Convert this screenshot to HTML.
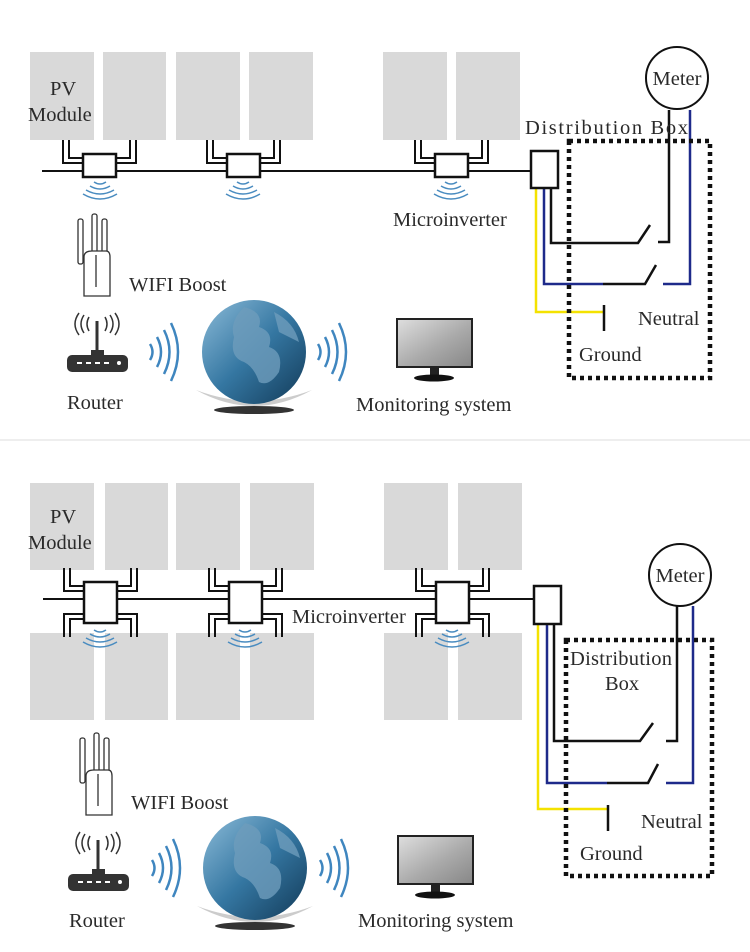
<!DOCTYPE html>
<html><head><meta charset="utf-8"><style>
body{margin:0;background:#fff}
svg{display:block}
text{font-family:"Liberation Serif",serif;fill:#2a2a2a;font-size:20.5px}
</style></head><body>
<svg width="750" height="952" viewBox="0 0 750 952" xmlns="http://www.w3.org/2000/svg">
<defs>
<linearGradient id="gl" x1="0" y1="0" x2="1" y2="1"><stop offset="0" stop-color="#8cbbd8"/><stop offset=".5" stop-color="#3577a2"/><stop offset="1" stop-color="#123a58"/></linearGradient>
<linearGradient id="scr" x1="0" y1="0" x2="1" y2="1"><stop offset="0" stop-color="#ddd"/><stop offset=".55" stop-color="#aaa"/><stop offset="1" stop-color="#888"/></linearGradient>
<g id="wifi" fill="none" stroke="#4a8cc0" stroke-width="1.5">
<path d="M-6,0 Q0,4 6,0"/><path d="M-10,4 Q0,10 10,4"/><path d="M-14,8 Q0,16 14,8"/><path d="M-17,12 Q0,22 17,12"/>
</g>
<g id="wup" fill="none" stroke="#111" stroke-width="2">
<path d="M0,4 H-14 V-14"/><path d="M0,9 H-20 V-14"/>
<path d="M33,4 H47 V-14"/><path d="M33,9 H53 V-14"/>
</g>
<g id="wdn" fill="none" stroke="#111" stroke-width="2">
<path d="M0,-4 H-14 V14"/><path d="M0,-9 H-20 V14"/>
<path d="M33,-4 H47 V14"/><path d="M33,-9 H53 V14"/>
</g>
<g id="arcs" fill="none" stroke="#3f86bf" stroke-width="2.5">
<path d="M0,-8 Q5,0 0,8"/><path d="M7,-15 Q15,0 7,15"/><path d="M14,-22 Q25,0 14,22"/><path d="M21,-29 Q35,0 21,29"/>
</g>
<g id="globe">
<path d="M-58,38 Q0,70 58,38 Q0,60 -58,38Z" fill="#ccc"/>
<ellipse cx="0" cy="58" rx="40" ry="4" fill="#333"/>
<circle r="52" fill="url(#gl)"/>
<path d="M-10,-45 Q10,-40 5,-25 Q20,-20 15,-5 Q30,0 25,20 Q15,35 5,30 Q0,15 -10,10 Q-25,5 -20,-15 Q-25,-30 -10,-45Z" fill="#6e9cbc" opacity=".8"/>
<path d="M20,-40 Q40,-30 45,-10 Q35,-15 25,-20Z" fill="#6e9cbc" opacity=".8"/>
</g>
<g id="router">
<rect x="0" y="34" width="61" height="17" rx="5" fill="#333"/>
<rect x="24" y="29" width="13" height="6" fill="#333"/>
<line x1="30" y1="0" x2="30" y2="30" stroke="#333" stroke-width="3"/>
<g stroke="#fff" stroke-width="2"><line x1="10" y1="42" x2="15" y2="42"/><line x1="19" y1="42" x2="24" y2="42"/><line x1="28" y1="42" x2="33" y2="42"/><line x1="37" y1="42" x2="42" y2="42"/></g>
<circle cx="52" cy="42" r="2" fill="#fff"/>
<g fill="none" stroke="#333" stroke-width="1.5"><path d="M22,-4 Q18,3 22,10"/><path d="M17,-6 Q11,3 17,12"/><path d="M12,-8 Q4,3 12,14"/><path d="M38,-4 Q42,3 38,10"/><path d="M43,-6 Q49,3 43,12"/><path d="M48,-8 Q56,3 48,14"/></g>
</g>
<g id="mon">
<rect x="0" y="0" width="77" height="50" fill="#222"/>
<rect x="2" y="2" width="73" height="46" fill="url(#scr)"/>
<rect x="34" y="50" width="9" height="8" fill="#222"/>
<ellipse cx="38" cy="60" rx="20" ry="3.5" fill="#111"/>
</g>
<g id="boost" fill="#fff" stroke="#333" stroke-width="1.3">
<rect x="0" y="0" width="5" height="45" rx="2"/>
<rect x="14" y="-5" width="5" height="40" rx="2"/>
<rect x="24" y="0" width="5" height="40" rx="2"/>
<path d="M6,38 Q6,32 14,32 H28 Q32,32 32,38 V77 H6Z"/>
<line x1="18" y1="36" x2="18" y2="68"/>
</g>
</defs>

<!-- TOP DIAGRAM -->
<g fill="#d9d9d9">
<rect x="30" y="52" width="64" height="88"/><rect x="103" y="52" width="63" height="88"/>
<rect x="176" y="52" width="64" height="88"/><rect x="249" y="52" width="64" height="88"/>
<rect x="383" y="52" width="64" height="88"/><rect x="456" y="52" width="64" height="88"/>
</g>
<line x1="42" y1="171" x2="531" y2="171" stroke="#111" stroke-width="2"/>
<g>
<use href="#wup" x="83" y="154"/><rect x="83" y="154" width="33" height="23" fill="#fff" stroke="#111" stroke-width="2.5"/>
<use href="#wup" x="227" y="154"/><rect x="227" y="154" width="33" height="23" fill="#fff" stroke="#111" stroke-width="2.5"/>
<use href="#wup" x="435" y="154"/><rect x="435" y="154" width="33" height="23" fill="#fff" stroke="#111" stroke-width="2.5"/>
<use href="#wifi" x="100" y="182"/><use href="#wifi" x="243" y="182"/><use href="#wifi" x="451" y="182"/>
</g>
<text x="50" y="95">PV</text><text x="28" y="121">Module</text>
<text x="393" y="226">Microinverter</text>
<text x="129" y="291">WIFI Boost</text>
<text x="67" y="409">Router</text>
<text x="356" y="411">Monitoring system</text>
<use href="#boost" x="78" y="219"/>
<use href="#router" x="67" y="321"/>
<use href="#arcs" x="150" y="352"/><use href="#arcs" x="318" y="352"/>
<use href="#globe" x="254" y="352"/>
<use href="#mon" x="396" y="318"/>

<g fill="none" stroke-width="2.5">
<path d="M536,188 V312 H603" stroke="#f4e200"/>
<path d="M544,188 V284 H603" stroke="#1e2a8a"/>
<path d="M603,284 H645 L656,265" stroke="#111"/>
<path d="M551,188 V243 H638 L650,225" stroke="#111"/>
<path d="M669,110 V242 H658" stroke="#111"/>
<path d="M690,110 V284 H663" stroke="#1e2a8a"/>
<path d="M604,305 V331" stroke="#111"/>
</g>
<rect x="531" y="151" width="27" height="37" fill="#fff" stroke="#111" stroke-width="2.5"/>
<rect x="569" y="141" width="141" height="237" fill="none" stroke="#111" stroke-width="4.5" stroke-dasharray="4,4"/>
<circle cx="677" cy="78" r="31" fill="#fff" stroke="#111" stroke-width="2"/>
<text x="677" y="85" text-anchor="middle">Meter</text>
<text x="525" y="134" textLength="163">Distribution Box</text>
<text x="638" y="325">Neutral</text>
<text x="579" y="361">Ground</text>

<line x1="0" y1="440" x2="750" y2="440" stroke="#ddd" stroke-width="1"/>

<!-- BOTTOM DIAGRAM -->
<g fill="#d9d9d9">
<rect x="30" y="483" width="64" height="87"/><rect x="105" y="483" width="63" height="87"/>
<rect x="176" y="483" width="64" height="87"/><rect x="250" y="483" width="64" height="87"/>
<rect x="384" y="483" width="64" height="87"/><rect x="458" y="483" width="64" height="87"/>
<rect x="30" y="633" width="64" height="87"/><rect x="105" y="633" width="63" height="87"/>
<rect x="176" y="633" width="64" height="87"/><rect x="250" y="633" width="64" height="87"/>
<rect x="384" y="633" width="64" height="87"/><rect x="458" y="633" width="64" height="87"/>
</g>
<line x1="43" y1="599" x2="534" y2="599" stroke="#111" stroke-width="2"/>
<use href="#wup" x="84" y="582"/><use href="#wdn" x="84" y="623"/>
<rect x="84" y="582" width="33" height="41" fill="#fff" stroke="#111" stroke-width="2.5"/>
<use href="#wup" x="229" y="582"/><use href="#wdn" x="229" y="623"/>
<rect x="229" y="582" width="33" height="41" fill="#fff" stroke="#111" stroke-width="2.5"/>
<use href="#wup" x="436" y="582"/><use href="#wdn" x="436" y="623"/>
<rect x="436" y="582" width="33" height="41" fill="#fff" stroke="#111" stroke-width="2.5"/>
<use href="#wifi" x="100" y="630"/><use href="#wifi" x="245" y="630"/><use href="#wifi" x="452" y="630"/>
<rect x="289" y="606" width="120" height="22" fill="#fff"/>
<text x="50" y="523">PV</text><text x="28" y="549">Module</text>
<text x="292" y="623">Microinverter</text>
<text x="131" y="809">WIFI Boost</text>
<text x="69" y="927">Router</text>
<text x="358" y="927">Monitoring system</text>
<use href="#boost" x="80" y="738"/>
<use href="#router" x="68" y="840"/>
<use href="#arcs" x="152" y="868"/><use href="#arcs" x="320" y="868"/>
<use href="#globe" x="255" y="868"/>
<use href="#mon" x="397" y="835"/>

<g fill="none" stroke-width="2.5">
<path d="M538,624 V809 H607" stroke="#f4e200"/>
<path d="M547,624 V783 H607" stroke="#1e2a8a"/>
<path d="M607,783 H648 L658,764" stroke="#111"/>
<path d="M554,624 V741 H640 L653,723" stroke="#111"/>
<path d="M677,606 V741 H666" stroke="#111"/>
<path d="M693,606 V783 H666" stroke="#1e2a8a"/>
<path d="M608,805 V831" stroke="#111"/>
</g>
<rect x="534" y="586" width="27" height="38" fill="#fff" stroke="#111" stroke-width="2.5"/>
<rect x="566" y="640" width="146" height="236" fill="none" stroke="#111" stroke-width="4.5" stroke-dasharray="4,4"/>
<circle cx="680" cy="575" r="31" fill="#fff" stroke="#111" stroke-width="2"/>
<text x="680" y="582" text-anchor="middle">Meter</text>
<text x="570" y="665" textLength="102">Distribution</text>
<text x="605" y="690">Box</text>
<text x="641" y="828">Neutral</text>
<text x="580" y="860">Ground</text>
</svg>
</body></html>
